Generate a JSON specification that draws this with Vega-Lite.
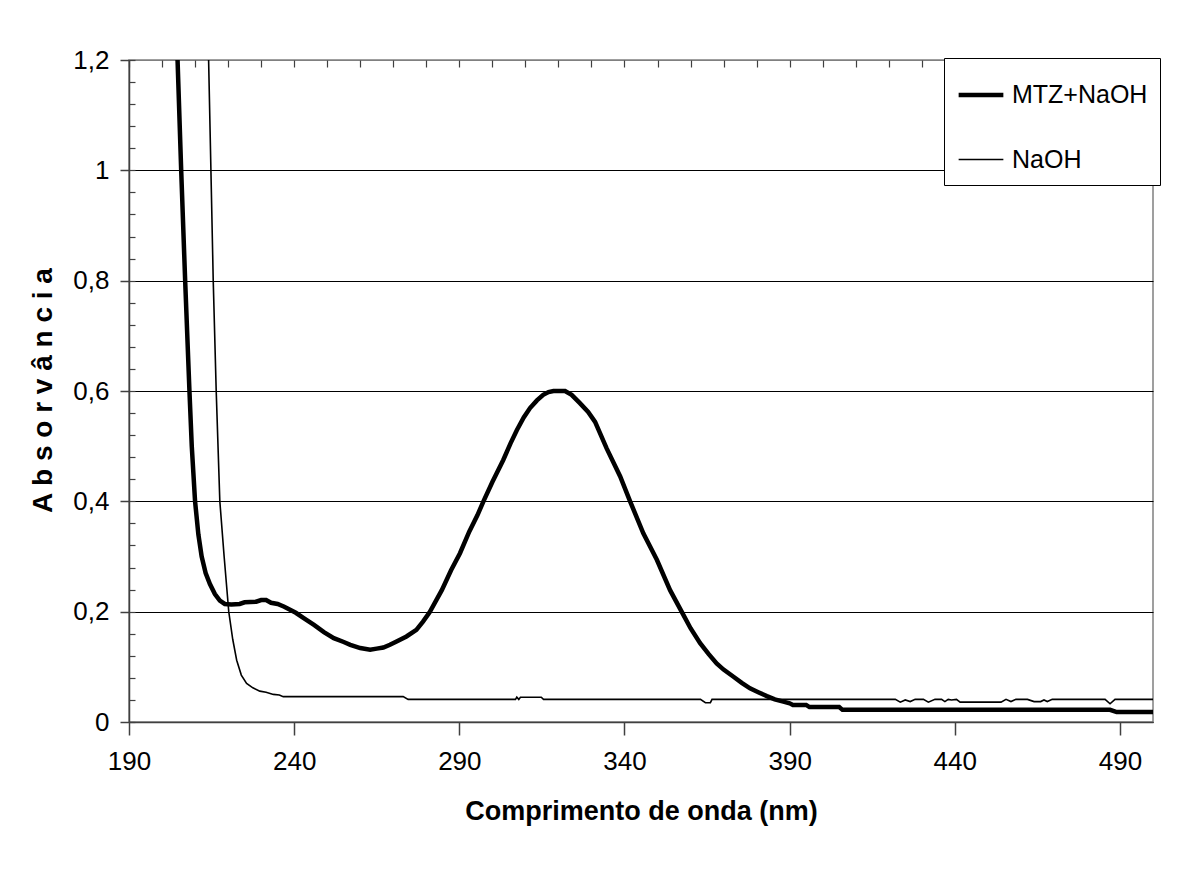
{
  "$schema": "https://vega.github.io/schema/vega-lite/v6.json",
  "width": 1024,
  "height": 662,
  "autosize": "none",
  "padding": {"left": 129, "top": 60, "right": 33, "bottom": 173},
  "background": "white",
  "config": {
    "view": {"stroke": "#808080", "strokeWidth": 1.5},
    "font": "Liberation Sans"
  },
  "data": {
    "values": [
      {"series": "MTZ+NaOH", "nm": 204, "abs": 1.33},
      {"series": "MTZ+NaOH", "nm": 204.7, "abs": 1.2},
      {"series": "MTZ+NaOH", "nm": 205.8, "abs": 1.0},
      {"series": "MTZ+NaOH", "nm": 207.0, "abs": 0.8},
      {"series": "MTZ+NaOH", "nm": 208.3, "abs": 0.6},
      {"series": "MTZ+NaOH", "nm": 209.0, "abs": 0.5},
      {"series": "MTZ+NaOH", "nm": 210.0, "abs": 0.4},
      {"series": "MTZ+NaOH", "nm": 211.0, "abs": 0.34},
      {"series": "MTZ+NaOH", "nm": 212.0, "abs": 0.30},
      {"series": "MTZ+NaOH", "nm": 213.2, "abs": 0.27},
      {"series": "MTZ+NaOH", "nm": 214.5, "abs": 0.25},
      {"series": "MTZ+NaOH", "nm": 216, "abs": 0.232},
      {"series": "MTZ+NaOH", "nm": 217.5, "abs": 0.22},
      {"series": "MTZ+NaOH", "nm": 219, "abs": 0.214},
      {"series": "MTZ+NaOH", "nm": 221, "abs": 0.213},
      {"series": "MTZ+NaOH", "nm": 223.5, "abs": 0.214},
      {"series": "MTZ+NaOH", "nm": 225, "abs": 0.217},
      {"series": "MTZ+NaOH", "nm": 228.5, "abs": 0.218},
      {"series": "MTZ+NaOH", "nm": 230, "abs": 0.221},
      {"series": "MTZ+NaOH", "nm": 231.5, "abs": 0.221},
      {"series": "MTZ+NaOH", "nm": 233, "abs": 0.216},
      {"series": "MTZ+NaOH", "nm": 235, "abs": 0.214},
      {"series": "MTZ+NaOH", "nm": 237, "abs": 0.209},
      {"series": "MTZ+NaOH", "nm": 240.5, "abs": 0.198},
      {"series": "MTZ+NaOH", "nm": 243, "abs": 0.188},
      {"series": "MTZ+NaOH", "nm": 246, "abs": 0.176},
      {"series": "MTZ+NaOH", "nm": 249, "abs": 0.163},
      {"series": "MTZ+NaOH", "nm": 252, "abs": 0.152},
      {"series": "MTZ+NaOH", "nm": 255, "abs": 0.145},
      {"series": "MTZ+NaOH", "nm": 257, "abs": 0.140},
      {"series": "MTZ+NaOH", "nm": 260, "abs": 0.134},
      {"series": "MTZ+NaOH", "nm": 263, "abs": 0.131},
      {"series": "MTZ+NaOH", "nm": 265, "abs": 0.133},
      {"series": "MTZ+NaOH", "nm": 267, "abs": 0.135},
      {"series": "MTZ+NaOH", "nm": 269, "abs": 0.140},
      {"series": "MTZ+NaOH", "nm": 271, "abs": 0.146},
      {"series": "MTZ+NaOH", "nm": 274, "abs": 0.155},
      {"series": "MTZ+NaOH", "nm": 277, "abs": 0.167},
      {"series": "MTZ+NaOH", "nm": 279, "abs": 0.182},
      {"series": "MTZ+NaOH", "nm": 281, "abs": 0.199},
      {"series": "MTZ+NaOH", "nm": 284.7, "abs": 0.239},
      {"series": "MTZ+NaOH", "nm": 287.5, "abs": 0.275},
      {"series": "MTZ+NaOH", "nm": 290.2, "abs": 0.306},
      {"series": "MTZ+NaOH", "nm": 293, "abs": 0.345},
      {"series": "MTZ+NaOH", "nm": 295.5, "abs": 0.375},
      {"series": "MTZ+NaOH", "nm": 297.3, "abs": 0.40},
      {"series": "MTZ+NaOH", "nm": 300, "abs": 0.435},
      {"series": "MTZ+NaOH", "nm": 303.3, "abs": 0.475},
      {"series": "MTZ+NaOH", "nm": 305.5, "abs": 0.505},
      {"series": "MTZ+NaOH", "nm": 307.4, "abs": 0.529},
      {"series": "MTZ+NaOH", "nm": 309.5, "abs": 0.552},
      {"series": "MTZ+NaOH", "nm": 311.4, "abs": 0.569},
      {"series": "MTZ+NaOH", "nm": 313.5, "abs": 0.583},
      {"series": "MTZ+NaOH", "nm": 315.4, "abs": 0.593},
      {"series": "MTZ+NaOH", "nm": 317, "abs": 0.598},
      {"series": "MTZ+NaOH", "nm": 318.5, "abs": 0.600},
      {"series": "MTZ+NaOH", "nm": 322, "abs": 0.600},
      {"series": "MTZ+NaOH", "nm": 324, "abs": 0.593},
      {"series": "MTZ+NaOH", "nm": 326.5, "abs": 0.578},
      {"series": "MTZ+NaOH", "nm": 329, "abs": 0.562},
      {"series": "MTZ+NaOH", "nm": 331.1, "abs": 0.544},
      {"series": "MTZ+NaOH", "nm": 334.6, "abs": 0.496},
      {"series": "MTZ+NaOH", "nm": 338.7, "abs": 0.445},
      {"series": "MTZ+NaOH", "nm": 341.7, "abs": 0.40},
      {"series": "MTZ+NaOH", "nm": 345.7, "abs": 0.342},
      {"series": "MTZ+NaOH", "nm": 349.8, "abs": 0.294},
      {"series": "MTZ+NaOH", "nm": 353.8, "abs": 0.239},
      {"series": "MTZ+NaOH", "nm": 357.3, "abs": 0.20},
      {"series": "MTZ+NaOH", "nm": 360, "abs": 0.17},
      {"series": "MTZ+NaOH", "nm": 362.9, "abs": 0.143},
      {"series": "MTZ+NaOH", "nm": 365.5, "abs": 0.123},
      {"series": "MTZ+NaOH", "nm": 367.9, "abs": 0.106},
      {"series": "MTZ+NaOH", "nm": 370, "abs": 0.095},
      {"series": "MTZ+NaOH", "nm": 373, "abs": 0.082},
      {"series": "MTZ+NaOH", "nm": 375.5, "abs": 0.071},
      {"series": "MTZ+NaOH", "nm": 378, "abs": 0.061},
      {"series": "MTZ+NaOH", "nm": 380.5, "abs": 0.054},
      {"series": "MTZ+NaOH", "nm": 383.1, "abs": 0.047},
      {"series": "MTZ+NaOH", "nm": 385.5, "abs": 0.041},
      {"series": "MTZ+NaOH", "nm": 388.1, "abs": 0.037},
      {"series": "MTZ+NaOH", "nm": 390, "abs": 0.034},
      {"series": "MTZ+NaOH", "nm": 391, "abs": 0.031},
      {"series": "MTZ+NaOH", "nm": 395, "abs": 0.031},
      {"series": "MTZ+NaOH", "nm": 396, "abs": 0.027},
      {"series": "MTZ+NaOH", "nm": 405, "abs": 0.027},
      {"series": "MTZ+NaOH", "nm": 406, "abs": 0.022},
      {"series": "MTZ+NaOH", "nm": 487, "abs": 0.022},
      {"series": "MTZ+NaOH", "nm": 489, "abs": 0.018},
      {"series": "MTZ+NaOH", "nm": 500, "abs": 0.018},
      {"series": "NaOH", "nm": 213.7, "abs": 1.3},
      {"series": "NaOH", "nm": 214.1, "abs": 1.2},
      {"series": "NaOH", "nm": 214.8, "abs": 1.0},
      {"series": "NaOH", "nm": 215.5, "abs": 0.8},
      {"series": "NaOH", "nm": 216.4, "abs": 0.6},
      {"series": "NaOH", "nm": 217.5, "abs": 0.4},
      {"series": "NaOH", "nm": 218.8, "abs": 0.3},
      {"series": "NaOH", "nm": 220.2, "abs": 0.2},
      {"series": "NaOH", "nm": 221.4, "abs": 0.15},
      {"series": "NaOH", "nm": 222.6, "abs": 0.112},
      {"series": "NaOH", "nm": 224, "abs": 0.085},
      {"series": "NaOH", "nm": 225.6, "abs": 0.070},
      {"series": "NaOH", "nm": 227.5, "abs": 0.062},
      {"series": "NaOH", "nm": 229.6, "abs": 0.056},
      {"series": "NaOH", "nm": 231.5, "abs": 0.054},
      {"series": "NaOH", "nm": 233.7, "abs": 0.050},
      {"series": "NaOH", "nm": 235.5, "abs": 0.049},
      {"series": "NaOH", "nm": 236.7, "abs": 0.046},
      {"series": "NaOH", "nm": 273, "abs": 0.046},
      {"series": "NaOH", "nm": 274.5, "abs": 0.041},
      {"series": "NaOH", "nm": 307, "abs": 0.041},
      {"series": "NaOH", "nm": 307.4, "abs": 0.045},
      {"series": "NaOH", "nm": 308, "abs": 0.041},
      {"series": "NaOH", "nm": 308.5, "abs": 0.045},
      {"series": "NaOH", "nm": 314.8, "abs": 0.045},
      {"series": "NaOH", "nm": 315.5, "abs": 0.041},
      {"series": "NaOH", "nm": 363, "abs": 0.041},
      {"series": "NaOH", "nm": 364.5, "abs": 0.035},
      {"series": "NaOH", "nm": 366, "abs": 0.035},
      {"series": "NaOH", "nm": 366.5, "abs": 0.041},
      {"series": "NaOH", "nm": 422, "abs": 0.041},
      {"series": "NaOH", "nm": 423.5, "abs": 0.036},
      {"series": "NaOH", "nm": 425, "abs": 0.040},
      {"series": "NaOH", "nm": 426.5, "abs": 0.037},
      {"series": "NaOH", "nm": 428, "abs": 0.041},
      {"series": "NaOH", "nm": 430.5, "abs": 0.041},
      {"series": "NaOH", "nm": 432, "abs": 0.036},
      {"series": "NaOH", "nm": 434, "abs": 0.041},
      {"series": "NaOH", "nm": 436, "abs": 0.041},
      {"series": "NaOH", "nm": 437, "abs": 0.037},
      {"series": "NaOH", "nm": 438, "abs": 0.041},
      {"series": "NaOH", "nm": 439, "abs": 0.040},
      {"series": "NaOH", "nm": 440.5, "abs": 0.041},
      {"series": "NaOH", "nm": 441.6, "abs": 0.036},
      {"series": "NaOH", "nm": 454, "abs": 0.036},
      {"series": "NaOH", "nm": 455.5, "abs": 0.041},
      {"series": "NaOH", "nm": 457, "abs": 0.037},
      {"series": "NaOH", "nm": 458.5, "abs": 0.041},
      {"series": "NaOH", "nm": 462, "abs": 0.041},
      {"series": "NaOH", "nm": 464, "abs": 0.037},
      {"series": "NaOH", "nm": 466, "abs": 0.037},
      {"series": "NaOH", "nm": 467, "abs": 0.040},
      {"series": "NaOH", "nm": 468, "abs": 0.037},
      {"series": "NaOH", "nm": 469.5, "abs": 0.041},
      {"series": "NaOH", "nm": 485.5, "abs": 0.041},
      {"series": "NaOH", "nm": 487, "abs": 0.033},
      {"series": "NaOH", "nm": 488.5, "abs": 0.041},
      {"series": "NaOH", "nm": 500, "abs": 0.041}
    ]
  },
  "layer": [
    {
      "transform": [{"filter": "datum.series === 'NaOH'"}],
      "mark": {"type": "line", "color": "black", "clip": true},
      "encoding": {
        "x": {
          "field": "nm", "type": "quantitative",
          "scale": {"domain": [190, 500], "nice": false, "zero": false},
          "axis": {
            "values": [190, 240, 290, 340, 390, 440, 490],
            "tickSize": 13, "tickColor": "#404040", "tickWidth": 1.5,
            "domainColor": "#404040", "domainWidth": 1.5,
            "grid": false,
            "labelFont": "Liberation Sans",
            "labelFontSize": 26, "labelColor": "black", "labelPadding": 13,
            "labelFlush": false,
            "title": "Comprimento de onda (nm)",
            "titleFont": "Liberation Sans", "titleFontWeight": "bold",
            "titleFontSize": 27, "titleColor": "black", "titlePadding": 24
          }
        },
        "y": {
          "field": "abs", "type": "quantitative",
          "scale": {"domain": [0, 1.2], "nice": false},
          "axis": {
            "values": [0, 0.2, 0.4, 0.6, 0.8, 1.0, 1.2],
            "labelExpr": "replace(format(datum.value, '.1~f'), '.', ',')",
            "tickSize": 9, "tickColor": "#404040", "tickWidth": 1.5,
            "domainColor": "#404040", "domainWidth": 1.5,
            "grid": true,
            "gridColor": {"condition": {"test": "datum.value === 1.2", "value": "#808080"}, "value": "black"},
            "gridWidth": 1,
            "labelFont": "Liberation Sans",
            "labelFontSize": 26, "labelColor": "black", "labelPadding": 11,
            "labelFlush": false,
            "title": "A b s o r v â n c i a",
            "titleFont": "Liberation Sans", "titleFontWeight": "bold",
            "titleFontSize": 28, "titleColor": "black",
            "titleX": -86, "titleY": 330, "titleAlign": "center", "titleBaseline": "middle", "titleAngle": -90
          }
        },
        "strokeWidth": {
          "field": "series", "type": "nominal",
          "scale": {"domain": ["MTZ+NaOH", "NaOH"], "range": [4.5, 1.6]},
          "legend": {
            "orient": "none", "legendX": 815, "legendY": -2,
            "title": null, "symbolType": "stroke", "symbolSize": 2000,
            "symbolStrokeColor": "black",
            "labelFont": "Liberation Sans",
            "labelFontSize": 25, "labelColor": "black", "labelLimit": 300, "labelOffset": 6,
            "padding": 12, "rowPadding": 28,
            "strokeColor": "black", "fillColor": "white"
          }
        }
      }
    },
    {
      "transform": [{"filter": "datum.series === 'MTZ+NaOH'"}],
      "mark": {"type": "line", "color": "black", "clip": true},
      "encoding": {
        "x": {
          "field": "nm", "type": "quantitative",
          "axis": {
            "values": [190, 200, 210, 220, 230, 240, 250, 260, 270, 280, 290, 300, 310, 320, 330, 340, 350, 360, 370, 380, 390, 400, 410, 420, 430, 440, 450, 460, 470, 480, 490, 500],
            "tickSize": -7, "tickColor": "#404040", "tickWidth": 1.2,
            "domain": false, "labels": false, "grid": false, "title": null
          }
        },
        "y": {
          "field": "abs", "type": "quantitative",
          "axis": {
            "values": [0, 0.04, 0.08, 0.12, 0.16, 0.2, 0.24, 0.28, 0.32, 0.36, 0.4, 0.44, 0.48, 0.52, 0.56, 0.6, 0.64, 0.68, 0.72, 0.76, 0.8, 0.84, 0.88, 0.92, 0.96, 1.0, 1.04, 1.08, 1.12, 1.16, 1.2],
            "orient": "left",
            "tickSize": -6, "tickColor": "#404040", "tickWidth": 1.2,
            "domain": false, "labels": false, "grid": false, "title": null
          }
        },
        "strokeWidth": {
          "field": "series", "type": "nominal",
          "scale": {"domain": ["MTZ+NaOH", "NaOH"], "range": [4.5, 1.6]},
          "legend": {
            "orient": "none", "legendX": 815, "legendY": -2,
            "title": null, "symbolType": "stroke", "symbolSize": 2000,
            "symbolStrokeColor": "black",
            "labelFont": "Liberation Sans",
            "labelFontSize": 25, "labelColor": "black", "labelLimit": 300, "labelOffset": 6,
            "padding": 12, "rowPadding": 28,
            "strokeColor": "black", "fillColor": "white"
          }
        }
      }
    }
  ],
  "resolve": {"axis": {"x": "independent", "y": "independent"}}
}
